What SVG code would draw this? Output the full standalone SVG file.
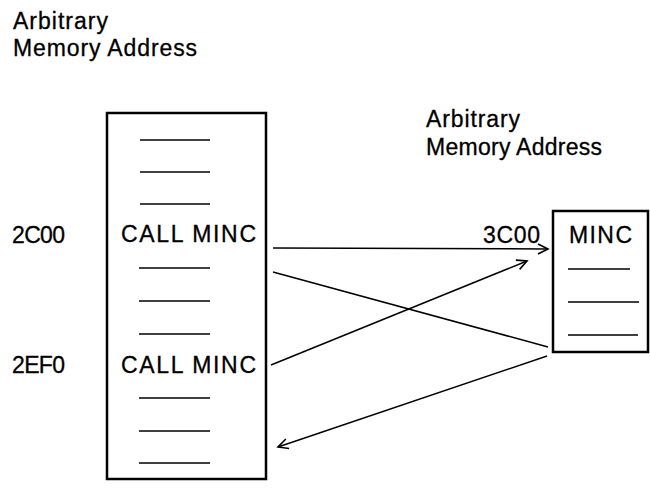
<svg xmlns="http://www.w3.org/2000/svg" width="650" height="489" viewBox="0 0 650 489">
<style>
text{font-family:"Liberation Sans",Arial,sans-serif;font-size:23px;fill:#000;stroke:#000;stroke-width:0.3}
.box{fill:#fff;stroke:#000;stroke-width:2.5}
.dash{stroke:#000;stroke-width:1.5}
.conn{stroke:#000;stroke-width:1.5;fill:none}
</style>
<defs>
<marker id="arr" markerUnits="userSpaceOnUse" markerWidth="14" markerHeight="14" refX="11" refY="6" orient="auto">
<path d="M1,1 L11,6 L1,11" fill="none" stroke="#000" stroke-width="1.6"/>
</marker>
</defs>
<g id="label-left">
<text x="13" y="29" textLength="95" lengthAdjust="spacing">Arbitrary</text>
<text x="13" y="56" textLength="184" lengthAdjust="spacing">Memory Address</text>
</g>
<g id="label-right">
<text x="426" y="127" textLength="94" lengthAdjust="spacing">Arbitrary</text>
<text x="426" y="155" textLength="176" lengthAdjust="spacing">Memory Address</text>
</g>
<g id="addr-2c00"><text x="12" y="243" textLength="53" lengthAdjust="spacing">2C00</text></g>
<g id="addr-2ef0"><text x="12" y="373" textLength="53" lengthAdjust="spacing">2EF0</text></g>
<g id="main-program">
<rect class="box" x="107" y="113" width="159" height="366"/>
<line class="dash" x1="140" y1="140" x2="210" y2="140"/>
<line class="dash" x1="140" y1="172" x2="210" y2="172"/>
<line class="dash" x1="140" y1="204" x2="210" y2="204"/>
<text x="121" y="242" textLength="135" lengthAdjust="spacing">CALL MINC</text>
<line class="dash" x1="139" y1="268" x2="210" y2="268"/>
<line class="dash" x1="139" y1="301" x2="210" y2="301"/>
<line class="dash" x1="139" y1="334" x2="210" y2="334"/>
<text x="121" y="373" textLength="135" lengthAdjust="spacing">CALL MINC</text>
<line class="dash" x1="139" y1="398" x2="210" y2="398"/>
<line class="dash" x1="139" y1="431" x2="210" y2="431"/>
<line class="dash" x1="139" y1="463" x2="210" y2="463"/>
</g>
<g id="minc">
<rect class="box" x="553" y="211" width="95" height="141"/>
<text x="569" y="243" textLength="63" lengthAdjust="spacing">MINC</text>
<line class="dash" x1="568" y1="269" x2="630" y2="269"/>
<line class="dash" x1="568" y1="302" x2="639" y2="302"/>
<line class="dash" x1="568" y1="335" x2="638" y2="335"/>
</g>
<g id="addr-3c00"><text x="483" y="243" textLength="57" lengthAdjust="spacing">3C00</text></g>
<g id="connectors">
<line class="conn" x1="273" y1="248" x2="548" y2="249" marker-end="url(#arr)"/>
<line class="conn" x1="273" y1="272" x2="548" y2="347"/>
<line class="conn" x1="271" y1="365" x2="527" y2="261" marker-end="url(#arr)"/>
<line class="conn" x1="547" y1="356" x2="278" y2="447" marker-end="url(#arr)"/>
</g>
</svg>
